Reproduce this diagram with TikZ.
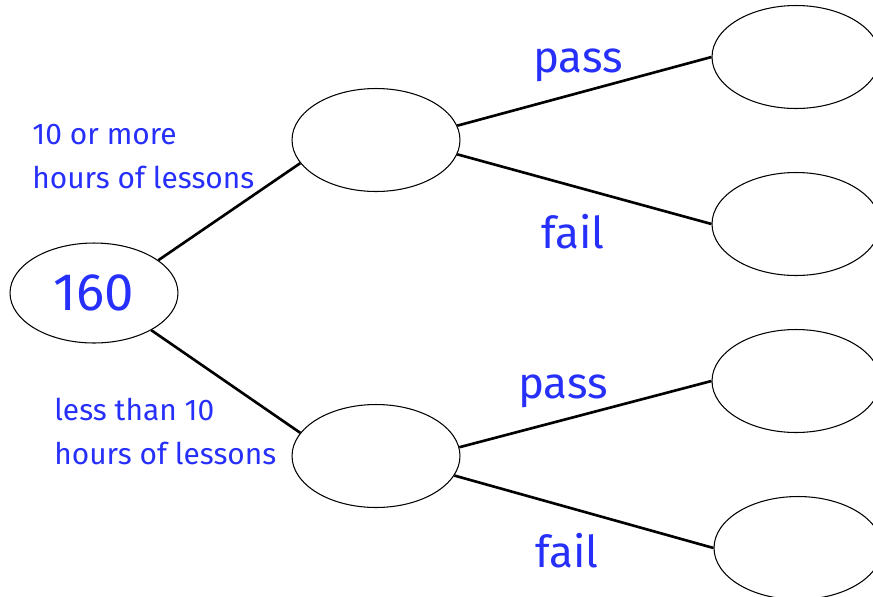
\documentclass[tikz,border=0pt]{standalone}
\usepackage{fontspec}
\setmainfont{Fira Sans}
\usetikzlibrary{shapes.geometric}
\definecolor{labelblue}{RGB}{38,48,250}

\begin{document}
\begin{tikzpicture}[x=0.02cm, y=-0.02cm]
    % Define styles
    \tikzstyle{event} = [ellipse, draw=black, line width=0.6pt, minimum width=3.36cm, minimum height=2.06cm, inner sep=0pt]
    \tikzstyle{branch} = [line width=1.5pt]
    \tikzstyle{label} = [text=labelblue, inner sep=0pt]
    \tikzstyle{side} = [label, font=\fontsize{17}{25}\selectfont, align=left, anchor=north west]
    \tikzstyle{result} = [label, font=\fontsize{25}{30}\selectfont]

    \useasboundingbox (0,0) rectangle (873,596);
    \clip (0,0) rectangle (873,596);

    % Nodes
    \node (total) [event, minimum height=2.0cm] at (94,293) {\color{labelblue}\fontsize{30}{36}\selectfont 160};
    \node (more) [event] at (376,140) {};
    \node (less) [event] at (376,456) {};
    \node (morepass) [event] at (796,57) {};
    \node (morefail) [event] at (796,224) {};
    \node (lesspass) [event] at (796,381) {};
    \node (lessfail) [event] at (798,548) {};

    % Branch labels
    \node (moretext) [side] at (32,124) {10 or more\\hours of lessons};
    \node (lesstext) [side] at (54,398) {less than 10\\hours of lessons};
    \node (passa) [result] at (578,65) {pass};
    \node (faila) [result] at (573,232) {fail};
    \node (passb) [result] at (563,391) {pass};
    \node (failb) [result] at (567,551) {fail};

    % Branches
    \draw [branch] (total.27) -- (more.197);
    \draw [branch] (total.-33) -- (less.163);
    \draw [branch] (more.10) -- (morepass.west);
    \draw [branch] (more.-10) -- (morefail.west);
    \draw [branch] (less.6) -- (lesspass.west);
    \draw [branch] (less.-14) -- (lessfail.west);
\end{tikzpicture}
\end{document}
